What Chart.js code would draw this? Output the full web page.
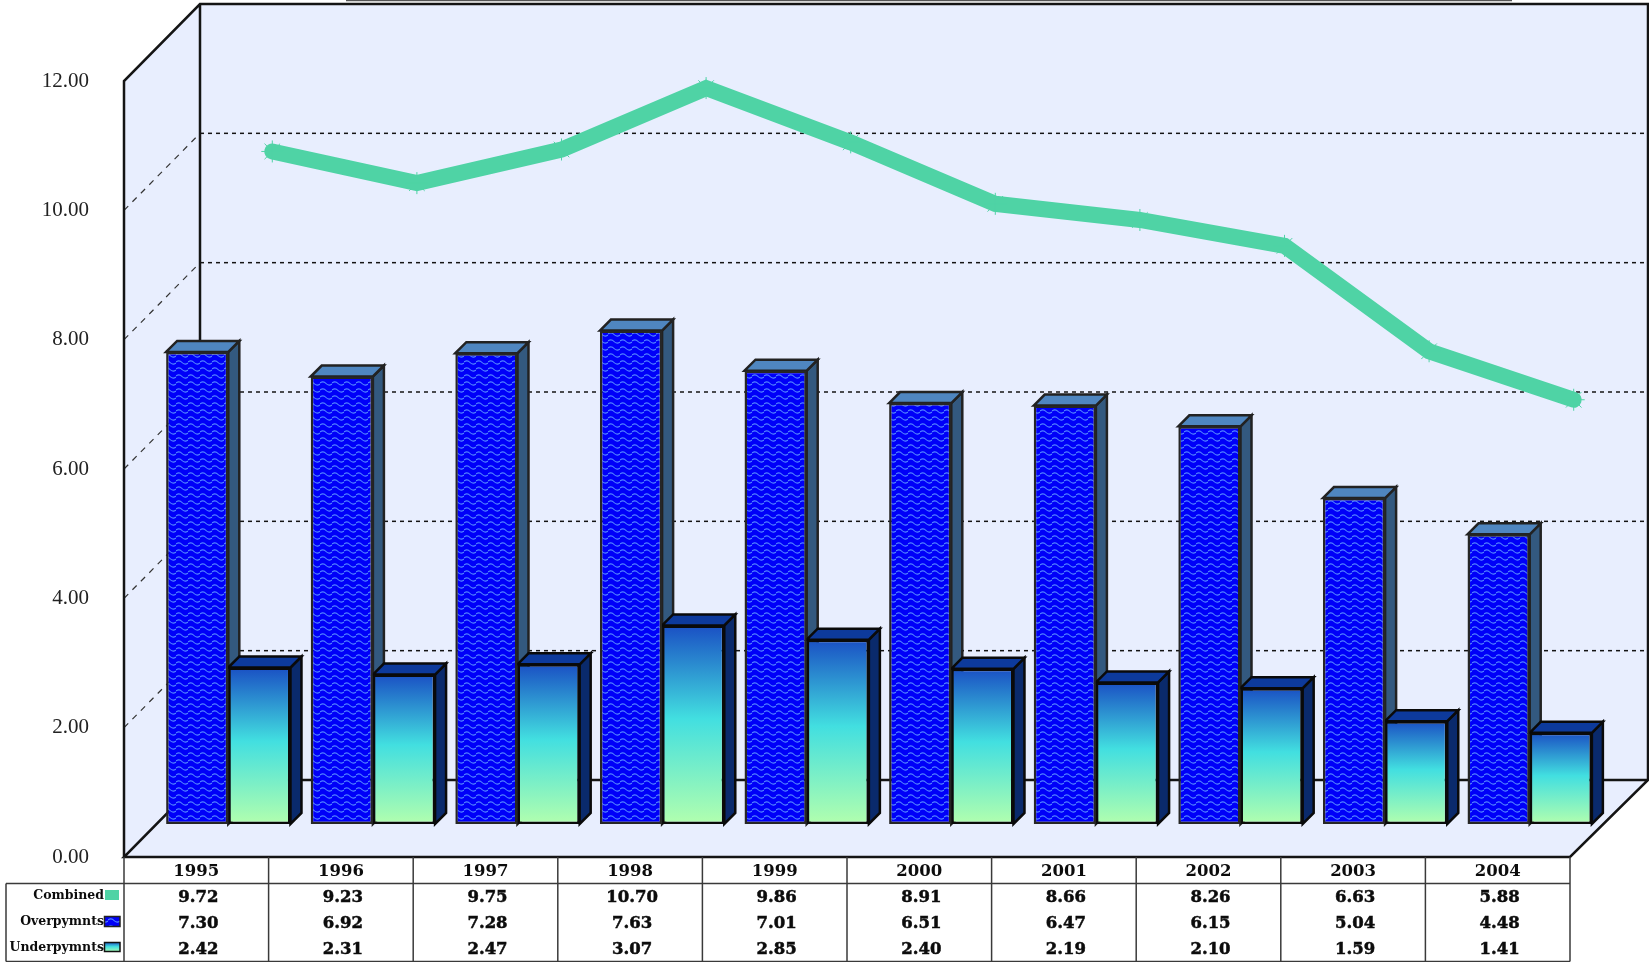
<!DOCTYPE html>
<html>
<head>
<meta charset="utf-8">
<title>Overpayments and underpayments</title>
<script src="https://cdn.jsdelivr.net/npm/chart.js@4/dist/chart.umd.min.js"></script>
<style>
  html, body { margin: 0; padding: 0; background: #fff; }
  #wrap { width: 1649px; height: 962px; }
</style>
</head>
<body>
<div id="wrap"><canvas id="mainChart" width="1649" height="962"></canvas></div>
<script>
const years = ['1995', '1996', '1997', '1998', '1999', '2000', '2001', '2002', '2003', '2004'];
const combined = [9.72, 9.23, 9.75, 10.70, 9.86, 8.91, 8.66, 8.26, 6.63, 5.88];
const overpayments = [7.30, 6.92, 7.28, 7.63, 7.01, 6.51, 6.47, 6.15, 5.04, 4.48];
const underpayments = [2.42, 2.31, 2.47, 3.07, 2.85, 2.40, 2.19, 2.10, 1.59, 1.41];
const seriesNames = ['Combined', 'Overpymnts', 'Underpymnts'];

const WALL = '#e8eefe';
const INK = '#141414';
const GREEN = '#4fd3a5';
const TABLE_FONT = 'bold 16.5px "DejaVu Serif"';
const KEY_FONT = 'bold 12.5px "DejaVu Serif"';

// depth of the box and where each series sits inside it
const DEPTH = { x: 76, y: -77 };
const BAR_SHIFT = { x: 32, y: -33 };
const BAR_DEPTH = 11;

function wavePattern() {
  const tile = document.createElement('canvas');
  tile.width = 12;
  tile.height = 7;
  const c = tile.getContext('2d');
  c.fillStyle = '#0000f8';
  c.fillRect(0, 0, 12, 7);
  c.lineWidth = 1.1;
  c.strokeStyle = '#5488ff';
  c.beginPath();
  c.moveTo(-1, 3.5);
  c.bezierCurveTo(2, 1.2, 4, 1.2, 6, 3.5);
  c.bezierCurveTo(8, 5.8, 10, 5.8, 13, 3.5);
  c.stroke();
  return c.createPattern(tile, 'repeat');
}

function underFill(context) {
  if (context.type !== 'data') return '#3fdcdc';
  const y = context.chart.scales.y;
  const y0 = y.getPixelForValue(context.raw), y1 = y.getPixelForValue(0);
  // scales have no pixels yet on the first option pass
  if (!isFinite(y0) || !isFinite(y1)) return '#3fdcdc';
  const g = context.chart.ctx.createLinearGradient(0, y0, 0, y1);
  g.addColorStop(0, '#1a50c4');
  g.addColorStop(0.47, '#42dfe0');
  g.addColorStop(1, '#b2ffae');
  return g;
}

function poly(ctx, pts, fill, stroke, lw) {
  ctx.beginPath();
  pts.forEach((p, i) => i ? ctx.lineTo(p[0], p[1]) : ctx.moveTo(p[0], p[1]));
  ctx.closePath();
  if (fill) { ctx.fillStyle = fill; ctx.fill(); }
  if (stroke) { ctx.strokeStyle = stroke; ctx.lineWidth = lw; ctx.stroke(); }
}

function segment(ctx, x1, y1, x2, y2) {
  ctx.beginPath();
  ctx.moveTo(x1, y1);
  ctx.lineTo(x2, y2);
  ctx.stroke();
}

// top and side faces of one bar series
function barFaces(ctx, meta, top, side, edge) {
  const d = BAR_DEPTH;
  meta.data.forEach(bar => {
    const l = bar.x - bar.width / 2, r = bar.x + bar.width / 2;
    poly(ctx, [[r, bar.y], [r + d, bar.y - d], [r + d, bar.base - d], [r, bar.base]], side, edge, 2.5);
    poly(ctx, [[l, bar.y], [l + d, bar.y - d], [r + d, bar.y - d], [r, bar.y]], top, edge, 2.5);
  });
}

const boxPlugin = {
  id: 'box',
  beforeDatasetsDraw(chart) {
    const ctx = chart.ctx;
    const a = chart.chartArea;
    const y = chart.scales.y;
    const dx = DEPTH.x, dy = DEPTH.y;
    ctx.save();
    // walls and floor
    poly(ctx, [[a.left + dx, a.top + dy], [1649, a.top + dy], [1649, a.bottom + dy], [a.left + dx, a.bottom + dy]], WALL);
    poly(ctx, [[a.left, a.top], [a.left + dx, a.top + dy], [a.left + dx, a.bottom + dy], [a.left, a.bottom]], WALL);
    poly(ctx, [[a.left, a.bottom], [a.left + dx, a.bottom + dy], [1649, a.bottom + dy], [a.right, a.bottom]], WALL);

    // dashed grid on the back and side walls
    y.ticks.forEach(t => {
      if (t.value === 0 || t.value === 12) return;
      const py = y.getPixelForValue(t.value);
      ctx.strokeStyle = INK;
      ctx.lineWidth = 1.5;
      ctx.setLineDash([4, 4]);
      segment(ctx, a.left + dx, py + dy, 1649, py + dy);
      ctx.strokeStyle = '#333';
      ctx.lineWidth = 1.2;
      ctx.setLineDash([6, 6]);
      segment(ctx, a.left, py, a.left + dx, py + dy);
    });
    ctx.setLineDash([]);

    // box outline
    ctx.strokeStyle = INK;
    ctx.lineWidth = 2.5;
    ctx.beginPath();
    ctx.moveTo(a.left, a.bottom);
    ctx.lineTo(a.left, a.top);
    ctx.lineTo(a.left + dx, a.top + dy);
    ctx.lineTo(1648, a.top + dy);
    ctx.lineTo(1648, a.bottom + dy);
    ctx.lineTo(a.right, a.bottom);
    ctx.lineTo(a.left, a.bottom);
    ctx.lineTo(a.left + dx, a.bottom + dy);
    ctx.lineTo(a.left + dx, a.top + dy);
    ctx.moveTo(a.left + dx, a.bottom + dy);
    ctx.lineTo(1648, a.bottom + dy);
    ctx.stroke();

    // underline of the clipped title at the very top
    ctx.strokeStyle = '#555';
    ctx.lineWidth = 1.5;
    segment(ctx, 346, 0.5, 1512, 0.5);

    // the overpayment faces go first, the shorter bars sit in front of them
    ctx.translate(BAR_SHIFT.x, BAR_SHIFT.y);
    barFaces(ctx, chart.getDatasetMeta(1), '#4f86c0', '#33597f', '#222');
    ctx.restore();
  },
  beforeDatasetDraw(chart, args) {
    const ctx = chart.ctx;
    ctx.save();
    if (args.meta.type === 'line') {
      ctx.translate(DEPTH.x, DEPTH.y);
      return;
    }
    ctx.translate(BAR_SHIFT.x, BAR_SHIFT.y);
    if (args.index === 2) barFaces(ctx, args.meta, '#0d3a9c', '#0a2a6c', '#0a0a0a');
  },
  afterDatasetDraw(chart) {
    chart.ctx.restore();
  },
  afterDraw(chart) {
    const ctx = chart.ctx;
    const a = chart.chartArea;
    const x = chart.scales.x;
    const lineTop = 883.5, tableBottom = 961.5, tableLeft = 6;
    const rows = [combined, overpayments, underpayments];
    const rowY = [898, 924, 950];
    ctx.save();
    ctx.strokeStyle = '#3a3a3a';
    ctx.lineWidth = 1.5;
    // table grid
    for (let i = 0; i <= years.length; i++) {
      const px = a.left + (a.right - a.left) * i / years.length;
      segment(ctx, px, a.bottom, px, tableBottom);
    }
    segment(ctx, tableLeft, lineTop, a.right, lineTop);
    segment(ctx, tableLeft, lineTop, tableLeft, tableBottom);
    segment(ctx, tableLeft, tableBottom, a.right, tableBottom);

    // table values, with a thin stroke for the heavy look of the original
    ctx.fillStyle = '#0c0c0c';
    ctx.strokeStyle = '#0c0c0c';
    ctx.lineWidth = 0.5;
    ctx.textBaseline = 'middle';
    ctx.textAlign = 'center';
    ctx.font = TABLE_FONT;
    rows.forEach((vals, r) => {
      vals.forEach((v, i) => {
        ctx.fillText(v.toFixed(2), x.getPixelForTick(i) + 2, rowY[r]);
        ctx.strokeText(v.toFixed(2), x.getPixelForTick(i) + 2, rowY[r]);
      });
    });

    // series names and legend keys
    ctx.textAlign = 'right';
    ctx.font = KEY_FONT;
    seriesNames.forEach((name, r) => ctx.fillText(name, 104, rowY[r] - 2));
    ctx.fillStyle = GREEN;
    ctx.fillRect(105, 890, 14, 10);
    poly(ctx, [[104.5, 916.5], [120, 916.5], [120, 926.5], [104.5, 926.5]], chart.data.datasets[1].backgroundColor, '#222', 1.5);
    const underKey = ctx.createLinearGradient(0, 942, 0, 952);
    underKey.addColorStop(0, '#1a50c4');
    underKey.addColorStop(0.47, '#42dfe0');
    underKey.addColorStop(1, '#b2ffae');
    poly(ctx, [[104.5, 942.5], [120, 942.5], [120, 951.5], [104.5, 951.5]], underKey, '#111', 1.5);
    ctx.restore();
  }
};

new Chart(document.getElementById('mainChart').getContext('2d'), {
  type: 'bar',
  data: {
    labels: years,
    datasets: [
      {
        type: 'line',
        label: seriesNames[0],
        data: combined,
        order: 0,
        clip: false,
        borderColor: GREEN,
        backgroundColor: GREEN,
        borderWidth: 16,
        borderJoinStyle: 'miter',
        borderCapStyle: 'round',
        tension: 0,
        fill: false,
        pointStyle: 'star',
        pointRadius: 11,
        pointBorderWidth: 1,
        pointBorderColor: GREEN,
        pointBackgroundColor: GREEN
      },
      {
        label: seriesNames[1],
        data: overpayments,
        order: 1,
        clip: false,
        backgroundColor: wavePattern(),
        borderColor: '#262626',
        borderWidth: 2.5,
        borderSkipped: false
      },
      {
        label: seriesNames[2],
        data: underpayments,
        order: 2,
        clip: false,
        backgroundColor: underFill,
        borderColor: '#0a0a0a',
        borderWidth: 2.5,
        borderSkipped: false
      }
    ]
  },
  options: {
    responsive: false,
    animation: false,
    layout: { padding: { top: 81, right: 79, left: 0, bottom: 0 } },
    datasets: { bar: { categoryPercentage: 0.86, barPercentage: 1 } },
    plugins: {
      legend: { display: false },
      title: { display: false },
      tooltip: { enabled: false }
    },
    scales: {
      x: {
        border: { display: false },
        grid: { display: false, drawTicks: false },
        afterFit(scale) { scale.height = 105; },
        ticks: {
          color: '#0c0c0c',
          font: { family: '"DejaVu Serif"', size: 16.5, weight: 'bold' },
          padding: 5,
          maxRotation: 0,
          autoSkip: false
        }
      },
      y: {
        min: 0,
        max: 12,
        border: { display: false },
        grid: { display: false, drawTicks: false },
        afterFit(scale) { scale.width = 124; },
        ticks: {
          stepSize: 2,
          color: '#222',
          padding: 35,
          font: { family: '"Liberation Serif"', size: 21 },
          callback: value => value.toFixed(2)
        }
      }
    }
  },
  plugins: [boxPlugin]
});
</script>
</body>
</html>
